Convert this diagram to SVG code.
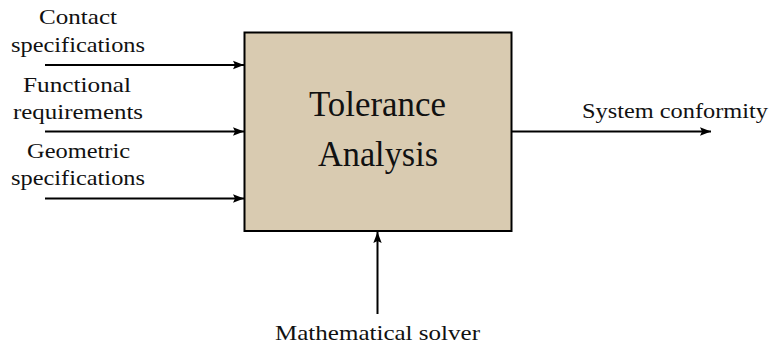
<svg xmlns="http://www.w3.org/2000/svg" width="772" height="347" viewBox="0 0 772 347">
<defs>
<marker id="ah" markerWidth="12" markerHeight="10" refX="11" refY="5" orient="auto" markerUnits="userSpaceOnUse">
<path d="M0,0.8 L11,5 L0,9.2 L2,5 Z" fill="#000"/>
</marker>
</defs>
<style>
.lbl{font-size:21px;text-anchor:middle;fill:#111;}
.big{font-size:36px;text-anchor:middle;fill:#111;}
.c{stroke:#000;stroke-width:2;fill:none;marker-end:url(#ah);}
</style>
<rect width="772" height="347" fill="#fff"/>
<g id="box" font-family="'Liberation Serif', 'DejaVu Serif', serif">
<rect x="244.5" y="32.5" width="267" height="198.5" fill="#D9CBB1" stroke="#000" stroke-width="2"/>
<text class="big" x="377.5" y="115.5" textLength="137" lengthAdjust="spacingAndGlyphs">Tolerance</text>
<text class="big" x="378" y="165.5" textLength="120" lengthAdjust="spacingAndGlyphs">Analysis</text>
</g>
<g id="in-contact" font-family="'Liberation Serif', 'DejaVu Serif', serif">
<text class="lbl" x="78" y="24" textLength="78" lengthAdjust="spacingAndGlyphs">Contact</text>
<text class="lbl" x="78" y="52" textLength="134" lengthAdjust="spacingAndGlyphs">specifications</text>
</g>
<g id="in-functional" font-family="'Liberation Serif', 'DejaVu Serif', serif">
<text class="lbl" x="77" y="91.5" textLength="108" lengthAdjust="spacingAndGlyphs">Functional</text>
<text class="lbl" x="78" y="118.5" textLength="130" lengthAdjust="spacingAndGlyphs">requirements</text>
</g>
<g id="in-geometric" font-family="'Liberation Serif', 'DejaVu Serif', serif">
<text class="lbl" x="78.5" y="158" textLength="103" lengthAdjust="spacingAndGlyphs">Geometric</text>
<text class="lbl" x="78" y="185" textLength="134" lengthAdjust="spacingAndGlyphs">specifications</text>
</g>
<g id="out-conformity" font-family="'Liberation Serif', 'DejaVu Serif', serif">
<text class="lbl" x="675" y="118" textLength="186" lengthAdjust="spacingAndGlyphs">System conformity</text>
</g>
<g id="mech-solver" font-family="'Liberation Serif', 'DejaVu Serif', serif">
<text class="lbl" x="377.5" y="340" textLength="205" lengthAdjust="spacingAndGlyphs">Mathematical solver</text>
</g>
<g id="connectors">
<line class="c" x1="45" y1="65" x2="244" y2="65"/>
<line class="c" x1="45" y1="131.5" x2="244" y2="131.5"/>
<line class="c" x1="45" y1="198.5" x2="244" y2="198.5"/>
<line class="c" x1="512" y1="131.5" x2="711" y2="131.5"/>
<line class="c" x1="377.5" y1="314" x2="377.5" y2="232"/>
</g>
</svg>
